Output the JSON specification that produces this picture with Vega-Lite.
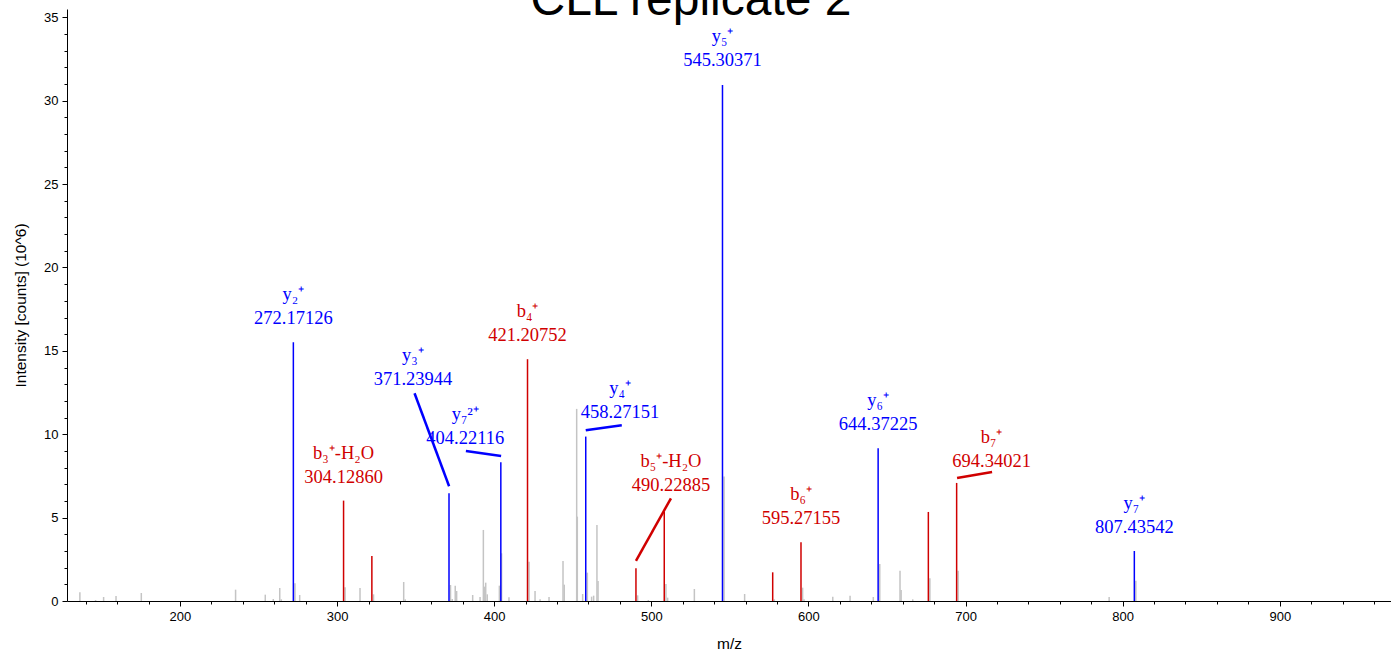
{
  "$schema": "https://vega.github.io/schema/vega-lite/v6.json",
  "width": 1324,
  "height": 592,
  "autosize": {"type": "none"},
  "padding": {"left": 67, "top": 9, "right": 0, "bottom": 53},
  "background": "white",
  "title": {"text": "CLL replicate 2", "fontSize": 48, "font": "Liberation Sans", "fontWeight": "normal", "color": "black", "anchor": "middle", "offset": -16, "dx": -38},
  "config": {
    "view": {"stroke": null},
    "axis": {"grid": false, "domainColor": "black", "tickColor": "black", "labelColor": "black", "titleColor": "black", "labelFont": "Liberation Sans", "titleFont": "Liberation Sans", "labelFontSize": 13, "titleFontSize": 15.5, "titleFontWeight": "normal", "domainWidth": 1, "tickWidth": 1}
  },
  "datasets": {
    "peaks": [
      {"mz": 136.3, "intensity": 0.52, "type": "other"},
      {"mz": 146.3, "intensity": 0.06, "type": "other"},
      {"mz": 151.4, "intensity": 0.24, "type": "other"},
      {"mz": 159.3, "intensity": 0.30, "type": "other"},
      {"mz": 175.4, "intensity": 0.48, "type": "other"},
      {"mz": 235.4, "intensity": 0.68, "type": "other"},
      {"mz": 254.3, "intensity": 0.38, "type": "other"},
      {"mz": 259.4, "intensity": 0.12, "type": "other"},
      {"mz": 263.5, "intensity": 0.78, "type": "other"},
      {"mz": 264.5, "intensity": 0.10, "type": "other"},
      {"mz": 273.2, "intensity": 1.06, "type": "other"},
      {"mz": 276.2, "intensity": 0.36, "type": "other"},
      {"mz": 305.1, "intensity": 0.82, "type": "other"},
      {"mz": 314.6, "intensity": 0.78, "type": "other"},
      {"mz": 323.2, "intensity": 0.40, "type": "other"},
      {"mz": 342.4, "intensity": 1.14, "type": "other"},
      {"mz": 343.4, "intensity": 0.10, "type": "other"},
      {"mz": 372.2, "intensity": 0.96, "type": "other"},
      {"mz": 373.3, "intensity": 0.12, "type": "other"},
      {"mz": 375.2, "intensity": 0.92, "type": "other"},
      {"mz": 376.1, "intensity": 0.60, "type": "other"},
      {"mz": 386.3, "intensity": 0.36, "type": "other"},
      {"mz": 391.0, "intensity": 0.24, "type": "other"},
      {"mz": 393.1, "intensity": 4.26, "type": "other"},
      {"mz": 393.7, "intensity": 0.86, "type": "other"},
      {"mz": 394.6, "intensity": 1.10, "type": "other"},
      {"mz": 395.6, "intensity": 0.40, "type": "other"},
      {"mz": 403.3, "intensity": 0.92, "type": "other"},
      {"mz": 404.7, "intensity": 2.86, "type": "other"},
      {"mz": 409.4, "intensity": 0.22, "type": "other"},
      {"mz": 422.2, "intensity": 2.36, "type": "other"},
      {"mz": 426.0, "intensity": 0.60, "type": "other"},
      {"mz": 429.2, "intensity": 0.10, "type": "other"},
      {"mz": 434.9, "intensity": 0.24, "type": "other"},
      {"mz": 443.8, "intensity": 2.40, "type": "other"},
      {"mz": 444.6, "intensity": 0.98, "type": "other"},
      {"mz": 452.5, "intensity": 11.52, "type": "other"},
      {"mz": 452.9, "intensity": 5.06, "type": "other"},
      {"mz": 456.3, "intensity": 0.42, "type": "other"},
      {"mz": 459.3, "intensity": 1.70, "type": "other"},
      {"mz": 462.0, "intensity": 0.26, "type": "other"},
      {"mz": 463.3, "intensity": 0.32, "type": "other"},
      {"mz": 465.4, "intensity": 4.56, "type": "other"},
      {"mz": 466.1, "intensity": 1.20, "type": "other"},
      {"mz": 491.3, "intensity": 0.34, "type": "other"},
      {"mz": 498.1, "intensity": 0.06, "type": "other"},
      {"mz": 509.3, "intensity": 1.02, "type": "other"},
      {"mz": 510.4, "intensity": 0.20, "type": "other"},
      {"mz": 527.4, "intensity": 0.72, "type": "other"},
      {"mz": 546.3, "intensity": 7.46, "type": "other"},
      {"mz": 559.4, "intensity": 0.42, "type": "other"},
      {"mz": 578.3, "intensity": 0.10, "type": "other"},
      {"mz": 596.3, "intensity": 0.80, "type": "other"},
      {"mz": 597.2, "intensity": 0.10, "type": "other"},
      {"mz": 615.5, "intensity": 0.26, "type": "other"},
      {"mz": 626.5, "intensity": 0.32, "type": "other"},
      {"mz": 641.3, "intensity": 0.24, "type": "other"},
      {"mz": 645.4, "intensity": 2.22, "type": "other"},
      {"mz": 658.3, "intensity": 1.82, "type": "other"},
      {"mz": 659.0, "intensity": 0.66, "type": "other"},
      {"mz": 666.4, "intensity": 0.10, "type": "other"},
      {"mz": 677.3, "intensity": 1.37, "type": "other"},
      {"mz": 695.3, "intensity": 1.81, "type": "other"},
      {"mz": 791.4, "intensity": 0.24, "type": "other"},
      {"mz": 808.4, "intensity": 1.22, "type": "other"},
      {"mz": 272.17126, "intensity": 15.52, "type": "y"},
      {"mz": 304.1286, "intensity": 6.02, "type": "b"},
      {"mz": 322.14, "intensity": 2.70, "type": "b"},
      {"mz": 371.23944, "intensity": 6.46, "type": "y"},
      {"mz": 404.22116, "intensity": 8.32, "type": "y"},
      {"mz": 421.20752, "intensity": 14.50, "type": "b"},
      {"mz": 458.27151, "intensity": 9.86, "type": "y"},
      {"mz": 490.22885, "intensity": 1.96, "type": "b"},
      {"mz": 508.24, "intensity": 5.36, "type": "b"},
      {"mz": 545.30371, "intensity": 30.95, "type": "y"},
      {"mz": 577.26, "intensity": 1.72, "type": "b"},
      {"mz": 595.27155, "intensity": 3.52, "type": "b"},
      {"mz": 644.37225, "intensity": 9.16, "type": "y"},
      {"mz": 676.33, "intensity": 5.34, "type": "b"},
      {"mz": 694.34021, "intensity": 7.08, "type": "b"},
      {"mz": 807.43542, "intensity": 3.00, "type": "y"}
    ],
    "labels": [
      {"ion": "y₂⁺", "value": "272.17126", "mz": 272.17, "intensity": 16.62, "type": "y"},
      {"ion": "b₃⁺-H₂O", "value": "304.12860", "mz": 304.13, "intensity": 7.10, "type": "b"},
      {"ion": "y₃⁺", "value": "371.23944", "mz": 348.3, "intensity": 12.96, "type": "y"},
      {"ion": "y₇²⁺", "value": "404.22116", "mz": 381.6, "intensity": 9.42, "type": "y"},
      {"ion": "b₄⁺", "value": "421.20752", "mz": 421.21, "intensity": 15.6, "type": "b"},
      {"ion": "y₄⁺", "value": "458.27151", "mz": 480.1, "intensity": 10.96, "type": "y"},
      {"ion": "b₅⁺-H₂O", "value": "490.22885", "mz": 512.5, "intensity": 6.62, "type": "b"},
      {"ion": "y₅⁺", "value": "545.30371", "mz": 545.3, "intensity": 32.11, "type": "y"},
      {"ion": "b₆⁺", "value": "595.27155", "mz": 595.27, "intensity": 4.62, "type": "b"},
      {"ion": "y₆⁺", "value": "644.37225", "mz": 644.37, "intensity": 10.26, "type": "y"},
      {"ion": "b₇⁺", "value": "694.34021", "mz": 716.6, "intensity": 8.04, "type": "b"},
      {"ion": "y₇⁺", "value": "807.43542", "mz": 807.44, "intensity": 4.06, "type": "y"}
    ],
    "leaders": [
      {"mz": 349.3, "intensity": 12.46, "mz2": 371.3, "intensity2": 6.88, "type": "y"},
      {"mz": 382.0, "intensity": 9.0, "mz2": 404.4, "intensity2": 8.7, "type": "y"},
      {"mz": 458.27, "intensity": 10.24, "mz2": 481.2, "intensity2": 10.54, "type": "y"},
      {"mz": 490.23, "intensity": 2.4, "mz2": 512.5, "intensity2": 6.16, "type": "b"},
      {"mz": 694.6, "intensity": 7.38, "mz2": 716.9, "intensity2": 7.74, "type": "b"}
    ]
  },
  "layer": [
    {
      "data": {"name": "peaks"},
      "mark": {"type": "rule", "strokeWidth": 1.5},
      "encoding": {
        "x": {"field": "mz", "type": "quantitative", "scale": {"domain": [128.1, 970.8], "nice": false, "zero": false},
              "axis": {"orient": "bottom", "title": "m/z", "values": [200, 300, 400, 500, 600, 700, 800, 900], "tickSize": 5, "labelPadding": 4, "titlePadding": 13, "format": "d"}},
        "y": {"field": "intensity", "type": "quantitative", "scale": {"domain": [0, 35.5], "nice": false},
              "axis": {"orient": "left", "title": "Intensity [counts] (10^6)", "values": [0, 5, 10, 15, 20, 25, 30, 35], "tickSize": 5, "labelPadding": 4, "titlePadding": 15, "format": "d"}},
        "y2": {"datum": 0},
        "color": {"field": "type", "type": "nominal", "scale": {"domain": ["other", "b", "y"], "range": ["#c4c4c4", "#d00000", "#0000ff"]}, "legend": null}
      }
    },
    {
      "data": {"name": "leaders"},
      "mark": {"type": "rule", "strokeWidth": 2.5},
      "encoding": {
        "x": {"field": "mz", "type": "quantitative",
              "axis": {"orient": "bottom", "title": null, "labels": false, "domain": false, "tickSize": 3, "values": [140, 160, 180, 220, 240, 260, 280, 320, 340, 360, 380, 420, 440, 460, 480, 520, 540, 560, 580, 620, 640, 660, 680, 720, 740, 760, 780, 820, 840, 860, 880, 920, 940, 960]}},
        "y": {"field": "intensity", "type": "quantitative",
              "axis": {"orient": "left", "title": null, "labels": false, "domain": false, "tickSize": 3, "values": [1, 2, 3, 4, 6, 7, 8, 9, 11, 12, 13, 14, 16, 17, 18, 19, 21, 22, 23, 24, 26, 27, 28, 29, 31, 32, 33, 34]}},
        "x2": {"field": "mz2"},
        "y2": {"field": "intensity2"},
        "color": {"field": "type", "type": "nominal", "legend": null}
      }
    },
    {
      "data": {"name": "labels"},
      "mark": {"type": "text", "font": "Liberation Serif", "fontSize": 18.5, "baseline": "alphabetic", "align": "center"},
      "encoding": {
        "x": {"field": "mz", "type": "quantitative", "axis": null},
        "y": {"field": "intensity", "type": "quantitative", "axis": null},
        "text": {"field": "value"},
        "color": {"field": "type", "type": "nominal", "legend": null}
      }
    },
    {
      "data": {"name": "labels"},
      "mark": {"type": "text", "font": "Liberation Serif", "fontSize": 18.5, "baseline": "alphabetic", "align": "center", "dy": -24},
      "encoding": {
        "x": {"field": "mz", "type": "quantitative", "axis": null},
        "y": {"field": "intensity", "type": "quantitative", "axis": null},
        "text": {"field": "ion"},
        "color": {"field": "type", "type": "nominal", "legend": null}
      }
    }
  ],
  "resolve": {"axis": {"x": "independent", "y": "independent"}}
}
